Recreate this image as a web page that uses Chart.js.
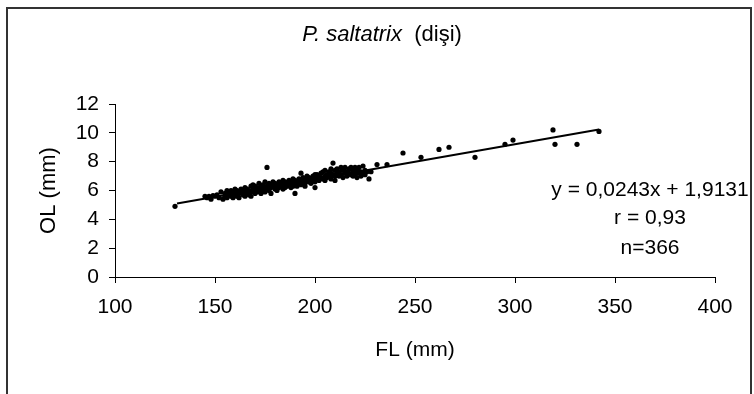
<!DOCTYPE html>
<html><head><meta charset="utf-8">
<script src="https://cdn.jsdelivr.net/npm/chart.js@4.4.1/dist/chart.umd.min.js"></script>
<style>html,body{margin:0;padding:0;background:#fff;}#wrap{width:754px;height:394px;position:relative;}</style>
</head><body><div id="wrap"><canvas id="c" width="754" height="394"></canvas></div>
<script>
// Fork length (mm) and otolith length (mm)
const FL = [130,
 145,146,147,148,149,150,151,152,153,154,155,155,156,156,157,157,158,158,159,159,160,160,160,
 161,161,162,162,163,163,164,164,165,165,165,166,166,167,167,168,168,168,169,169,170,170,170,
 171,171,172,172,173,173,173,174,174,175,175,175,176,176,176,177,177,178,178,178,179,179,180,180,180,
 181,181,182,182,183,183,184,184,185,185,185,186,186,187,187,188,188,188,189,189,190,190,190,190,
 191,191,192,192,193,193,193,194,194,195,195,195,196,196,197,197,198,198,199,199,200,200,200,200,
 201,201,202,202,203,203,204,204,205,205,205,206,206,207,207,208,208,208,209,209,210,210,210,
 211,211,212,212,213,213,214,214,215,215,216,216,217,217,218,218,219,219,220,220,220,
 221,221,222,222,223,223,224,224,225,225,226,227,228,
 231,236,244,253,262,267,280,295,299,319,320,331,342];
const OL = [4.9,
 5.6,5.5,5.6,5.4,5.65,5.6,5.7,5.5,5.9,5.4,5.8,5.6,6.0,5.5,5.7,5.9,5.6,6.0,5.8,5.5,5.9,5.7,6.1,
 5.6,6.0,5.8,5.5,5.9,6.1,5.7,6.0,5.6,5.9,6.2,5.8,6.1,5.7,6.0,6.3,5.9,5.6,6.1,6.4,5.8,6.0,6.3,
 6.2,5.9,6.5,6.0,6.3,6.1,5.8,6.4,6.0,6.2,6.6,5.9,6.3,7.6,6.1,6.5,6.0,6.4,6.2,5.8,6.6,6.3,6.1,6.5,6.3,
 6.4,6.0,6.6,6.2,6.5,6.3,6.7,6.1,6.4,6.6,6.2,6.5,6.3,6.7,6.4,6.2,6.6,6.5,6.3,6.8,6.5,5.8,6.7,6.4,
 6.6,6.3,6.8,6.5,6.4,7.2,6.7,6.6,6.9,6.5,6.8,6.3,6.7,7.0,6.6,6.9,6.8,6.5,7.0,6.7,6.9,6.2,7.1,6.6,
 6.8,7.1,7.0,6.7,7.2,6.9,7.3,6.8,7.0,7.4,6.7,7.1,6.9,7.3,7.0,7.2,6.8,7.5,7.9,7.1,7.4,7.0,6.7,
 7.2,7.5,7.0,7.3,7.6,7.1,7.4,6.9,7.2,7.6,7.3,7.0,7.5,7.2,7.6,7.1,7.4,7.0,7.3,7.6,7.1,
 7.4,6.9,7.2,7.6,7.3,7.0,7.7,7.2,7.4,7.1,7.3,6.8,7.3,
 7.8,7.8,8.6,8.3,8.85,9.0,8.3,9.2,9.5,10.2,9.2,9.2,10.1];
// Regression shown on the chart
const SLOPE = 0.0243, INTERCEPT = 1.9131;
const TREND_X = [131, 342];
const X_TICKS = {min:100, max:400, step:50};
const Y_TICKS = {min:0, max:12, step:2};
const TITLE_ITALIC = 'P. saltatrix';
const TITLE_REST = '  (dişi)';
const STATS = ['y = 0,0243x + 1,9131', 'r = 0,93', 'n=366'];

const FONT = "'Liberation Sans', Arial, sans-serif";
const FS = 21;
const points = FL.map((x,i)=>({x, y:OL[i]}));
const trend = TREND_X.map(x=>({x, y: SLOPE*x+INTERCEPT}));

const deco = {
  id:'deco',
  beforeDraw(chart){
    const ctx = chart.ctx;
    ctx.save();
    ctx.strokeStyle = '#333'; ctx.lineWidth = 2;
    ctx.strokeRect(7, 8, 744, 400);
    ctx.restore();
  },
  afterDraw(chart){
    const ctx = chart.ctx;
    ctx.save();
    ctx.fillStyle = '#000';
    ctx.textBaseline = 'middle';
    // title with mixed styles
    ctx.font = 'italic 22px ' + FONT;
    const w1 = ctx.measureText(TITLE_ITALIC).width;
    ctx.font = '22px ' + FONT;
    const w2 = ctx.measureText(TITLE_REST).width;
    const cx = 382, ty = 35;
    let sx = cx - (w1+w2)/2;
    ctx.textAlign = 'left';
    ctx.font = 'italic 22px ' + FONT;
    ctx.fillText(TITLE_ITALIC, sx, ty);
    ctx.font = '22px ' + FONT;
    ctx.fillText(TITLE_REST, sx + w1, ty);
    // regression stats
    ctx.textAlign = 'center';
    ctx.font = FS + 'px ' + FONT;
    const ys = [190, 218, 248];
    STATS.forEach((s,i)=>ctx.fillText(s, 650, ys[i]));
    ctx.restore();
  }
};

new Chart(document.getElementById('c'), {
  type:'scatter',
  data:{datasets:[
    {data:trend, showLine:true, borderColor:'#000', borderWidth:2, pointRadius:0, order:1},
    {data:points, backgroundColor:'#000', borderColor:'#000', pointRadius:2.6, borderWidth:0, order:0}
  ]},
  options:{
    responsive:false, animation:false, devicePixelRatio:1,
    layout:{padding:{left:0, right:39, top:104, bottom:0}},
    plugins:{legend:{display:false}, tooltip:{enabled:false}, title:{display:false}},
    scales:{
      x:{type:'linear', min:X_TICKS.min, max:X_TICKS.max,
        ticks:{stepSize:X_TICKS.step, color:'#000', font:{family:FONT, size:FS}, padding:12, maxRotation:0},
        grid:{drawOnChartArea:false, drawTicks:true, tickLength:6, color:'#000'},
        border:{color:'#000', width:1},
        title:{display:true, text:'FL (mm)', color:'#000', font:{family:FONT, size:FS}, padding:{top:0, bottom:31}},
        afterFit(s){ s.height = 117; }
      },
      y:{type:'linear', min:Y_TICKS.min, max:Y_TICKS.max,
        ticks:{stepSize:Y_TICKS.step, color:'#000', font:{family:FONT, size:FS}, padding:10},
        grid:{drawOnChartArea:false, drawTicks:true, tickLength:6, color:'#000'},
        border:{color:'#000', width:1},
        title:{display:true, text:'OL (mm)', color:'#000', font:{family:FONT, size:22}, padding:{top:36, bottom:0}},
        afterFit(s){ s.width = 115; }
      }
    }
  },
  plugins:[deco]
});
</script></body></html>
